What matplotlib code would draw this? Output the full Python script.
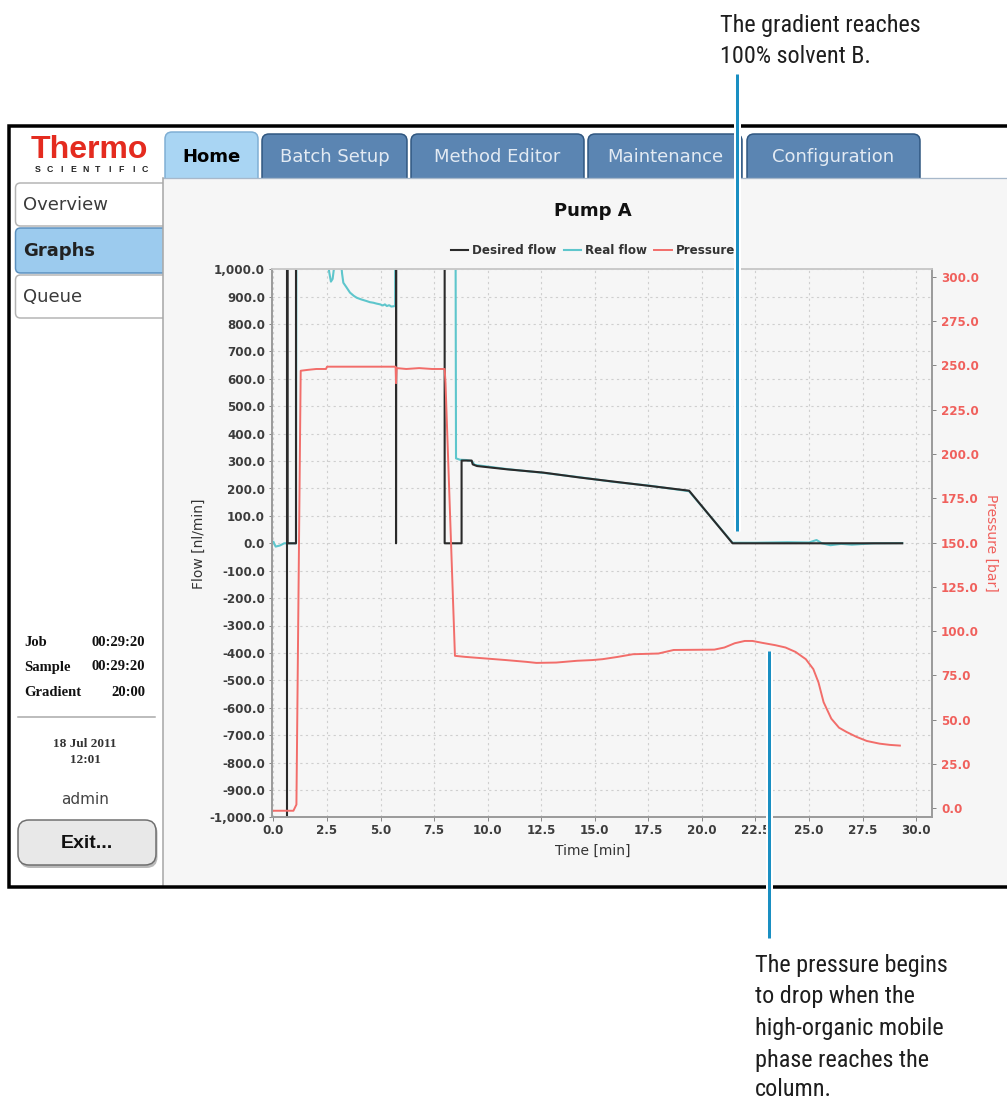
import numpy as np
import matplotlib
matplotlib.use("Agg")
import matplotlib.pyplot as plt
from matplotlib import font_manager
from matplotlib.patches import Rectangle, FancyBboxPatch
from matplotlib.ticker import FuncFormatter, FixedLocator

# ---------------- data ----------------
desired_t = [0.0, 0.63, 0.63, 0.66, 0.66, 1.05, 1.05, 5.72, 5.72, 5.74, 7.99, 7.99,
             8.78, 8.78, 9.25, 9.3, 9.5, 10.9, 12.6, 14.3, 15.9, 17.6, 19.4, 21.43, 29.35]
desired_v = [-3000, -3000, 3000, 3000, 0, 0, 3000, 3000, 0, 3000, 3000, 0,
             0, 302, 302, 288, 282, 270, 258, 240, 225, 209, 192, 0, 0]

real_t = [0.0, 0.1, 0.3, 0.5, 0.63, 1.05, 1.1, 2.45, 2.6, 2.68, 2.76, 2.85, 3.15, 3.2,
          3.26, 3.4, 3.57, 3.75, 3.89, 4.1, 4.35, 4.5, 4.66, 4.8, 4.98, 5.1, 5.2, 5.29,
          5.4, 5.5, 5.68, 5.72, 8.45, 8.52, 8.7, 9.0, 9.25, 9.4, 10.9, 12.6, 14.3, 15.9,
          17.6, 19.4, 21.43, 22.5, 24.0, 25.0, 25.35, 25.6, 26.0, 26.5, 27.0, 28.0, 29.35]
real_v = [5, -12, -8, 0, 0, 0, 3000, 1100, 990, 955, 965, 1020, 1030, 985,
          951, 935, 915, 903, 896, 890, 884, 880, 878, 875, 872, 868, 872, 866,
          869, 864, 866, 3000, 3000, 310, 305, 304, 300, 286, 271, 257, 241, 224,
          210, 190, 2, 2, 4, 3, 12, 0, -7, -2, -5, 0, 1]

pressure_t = [0.0, 0.93, 1.07, 1.27, 1.6, 2.0, 2.45, 2.5, 5.7, 5.72, 5.75, 6.2, 6.8,
              7.4, 7.99, 8.03, 8.47, 8.95, 9.9, 10.85, 11.8, 12.27, 13.2, 14.17, 14.88,
              15.36, 16.07, 16.78, 17.97, 18.68, 20.58, 21.05, 21.53, 22.0, 22.36, 22.83,
              23.43, 23.9, 24.37, 24.85, 25.2, 25.44, 25.68, 26.04, 26.4, 26.75, 27.22,
              27.7, 28.29, 28.77, 29.24]
pressure_v = [-1.5, -1.5, 2, 247, 247.5, 248, 248, 249.3, 249.3, 240, 248.5, 248, 248.5,
              248, 248, 240, 86, 85.4, 84.5, 83.6, 82.6, 82, 82.2, 83.2, 83.6,
              84.1, 85.4, 86.9, 87.3, 89.3, 89.5, 90.7, 93.1, 94.4, 94.4, 93.3,
              92, 90.7, 88.2, 84.1, 78.5, 71, 59.8, 50.5, 45.4, 43, 40.2,
              37.9, 36.4, 35.7, 35.3]

time_ticks = [0.0, 2.5, 5.0, 7.5, 10.0, 12.5, 15.0, 17.5, 20.0, 22.5, 25.0, 27.5, 30.0]
flow_ticks = [-1000, -900, -800, -700, -600, -500, -400, -300, -200, -100, 0,
              100, 200, 300, 400, 500, 600, 700, 800, 900, 1000]
pressure_ticks = [0, 25, 50, 75, 100, 125, 150, 175, 200, 225, 250, 275, 300]

series_names = ["Desired flow", "Real flow", "Pressure"]
tab_names = ["Home", "Batch Setup", "Method Editor", "Maintenance", "Configuration"]
nav_names = ["Overview", "Graphs", "Queue"]
callout_top = ["The gradient reaches", "100% solvent B."]
callout_bottom = ["The pressure begins", "to drop when the", "high-organic mobile",
                  "phase reaches the", "column."]

# ---------------- figure ----------------
W, H = 1007, 1099
fig = plt.figure(figsize=(W / 100, H / 100), dpi=100)
fig.patch.set_facecolor("white")
renderer = fig.canvas.get_renderer()

PX = 72 / 100  # points per pixel
UI = "DejaVu Sans"
installed = {f.name for f in font_manager.fontManager.ttflist}
ANN = next((n for n in ["Roboto Condensed", "Liberation Sans Narrow", "Arial Narrow",
                        "Roboto"] if n in installed), "DejaVu Sans")

bg = fig.add_axes([0, 0, 1, 1], zorder=-5)
bg.set_xlim(0, W)
bg.set_ylim(H, 0)
bg.axis("off")

# tabs
tab_x = [(165, 258, 132), (262, 407, 134), (411, 584, 134), (588, 742, 134), (747, 920, 134)]
for i, (name, (x0, x1, top)) in enumerate(zip(tab_names, tab_x)):
    if i == 0:
        fc, ec, tc, fw = "#a9d5f3", "#7eaed4", "black", "bold"
    else:
        fc, ec, tc, fw = "#5b85b2", "#2f5680", "#e2eaf3", "normal"
    bg.add_patch(FancyBboxPatch((x0, top), x1 - x0, 60,
                                boxstyle="round,pad=0,rounding_size=7",
                                fc=fc, ec=ec, lw=1.5 * PX, zorder=1))
    bg.text((x0 + x1) / 2, 157, name, ha="center", va="center", fontsize=13,
            color=tc, fontweight=fw, family=UI, zorder=3)

# nav buttons
nav_y = [(183, 226), (228, 273), (275, 318)]
for i, (name, (y0, y1)) in enumerate(zip(nav_names, nav_y)):
    if i == 1:
        fc, ec, fw = "#9ccbee", "#5b90bf", "bold"
    else:
        fc, ec, fw = "white", "#b4b4b4", "normal"
    bg.add_patch(FancyBboxPatch((15.5, y0), 160, y1 - y0,
                                boxstyle="round,pad=0,rounding_size=5",
                                fc=fc, ec=ec, lw=1.5 * PX, zorder=1))
    bg.text(23, (y0 + y1) / 2 + 1, name, ha="left", va="center", fontsize=13,
            fontweight=fw, color="#222" if i == 1 else "#3a3a3a", family=UI, zorder=3)

# main panel
bg.add_patch(Rectangle((163, 178), 860, 707, fc="#f6f6f6", ec="none", zorder=2))
bg.plot([163, 1010], [178, 178], color="#a7b8ca", lw=1.3 * PX, zorder=2.5)
bg.plot([162.5, 162.5], [178, 885], color="#a9a9a9", lw=1.6 * PX, zorder=2.5)

# logo
bg.text(89, 157.5, "Thermo", ha="center", va="baseline", fontsize=23,
        fontweight="bold", color="#e42b1f", family="Liberation Sans", zorder=3)
for k, ch in enumerate("SCIENTIFIC"):
    bg.text(38 + k * 11.9, 171.5, ch, ha="center", va="baseline", fontsize=6.3,
            fontweight="bold", color="#222", family="Liberation Sans", zorder=3)

# left info block
SER = "Liberation Serif"
for lab, val, yy in [("Job", "00:29:20", 642), ("Sample", "00:29:20", 667),
                     ("Gradient", "20:00", 692)]:
    bg.text(24, yy, lab, ha="left", va="center", fontsize=10.5, fontweight="bold",
            family=SER, color="#111", zorder=3)
    bg.text(145, yy, val, ha="right", va="center", fontsize=10.5, fontweight="bold",
            family=SER, color="#111", zorder=3)
bg.plot([18, 155], [716.5, 716.5], color="#a8a8a8", lw=1.5 * PX, zorder=3)
bg.text(85, 744, "18 Jul 2011", ha="center", va="center", fontsize=9.5,
        family=SER, fontweight="bold", color="#333", zorder=3)
bg.text(85, 760, "12:01", ha="center", va="center", fontsize=9.5,
        family=SER, fontweight="bold", color="#333", zorder=3)
bg.text(85, 800, "admin", ha="center", va="center", fontsize=11, family=UI,
        color="#444", zorder=3)
bg.add_patch(FancyBboxPatch((19.5, 822), 138, 46, boxstyle="round,pad=0,rounding_size=11",
                            fc="#b9b9b9", ec="none", zorder=2.6))
bg.add_patch(FancyBboxPatch((18, 820), 138, 45, boxstyle="round,pad=0,rounding_size=11",
                            fc="#e8e8e8", ec="#6e6e6e", lw=1.5 * PX, zorder=2.7))
bg.text(87, 843, "Exit...", ha="center", va="center", fontsize=14, fontweight="bold",
        family="Liberation Sans", color="#111", zorder=3)

# screenshot frame (open at the right, cut by the image edge)
bg.plot([1010, 9, 9, 1010], [125.5, 125.5, 886.5, 886.5], color="black",
        lw=3.5 * PX, solid_joinstyle="miter", zorder=4)

# ---------------- chart ----------------
L, R, T, B = 272, 932, 269.3, 817.3
ax = fig.add_axes([L / W, 1 - B / H, (R - L) / W, (B - T) / H], zorder=1)
ax.patch.set_visible(False)
ax2 = ax.twinx()
ax2.patch.set_visible(False)

c_des, c_real, c_pres = "#2a2a2a", "#5ec6cc", "#f26d6a"
l2, = ax.plot(real_t, real_v, color=c_real, lw=1.5, label=series_names[1])
l1, = ax.plot(desired_t, desired_v, color=c_des, lw=1.5, label=series_names[0])
l3, = ax2.plot(pressure_t, pressure_v, color=c_pres, lw=1.4, label=series_names[2])

ax.set_xlim(-0.07, 30.74)
ax.set_ylim(-1000, 1000)
ax2.set_ylim(-5.2, 304.3)

ax.xaxis.set_major_locator(FixedLocator(time_ticks))
ax.yaxis.set_major_locator(FixedLocator(flow_ticks))
ax2.yaxis.set_major_locator(FixedLocator(pressure_ticks))
fmt = FuncFormatter(lambda v, p: f"{v:,.1f}")
ax.xaxis.set_major_formatter(fmt)
ax.yaxis.set_major_formatter(fmt)
ax2.yaxis.set_major_formatter(fmt)

ax.grid(True, color="#cfcfcf", lw=0.8, linestyle=(0, (2, 3)))
for a in (ax, ax2):
    for s in a.spines.values():
        s.set_color("#9a9a9a")
        s.set_linewidth(1.2)
    a.spines["top"].set_color("#c9c9c9")
ax.tick_params(axis="both", direction="out", length=3.5 * PX, width=1.0 * PX,
               color="#888888", labelsize=8.6, labelcolor="#3c3c3c", pad=2.5)
ax2.tick_params(axis="y", direction="out", length=3.5 * PX, width=1.0 * PX,
                color="#888888", labelsize=8.6, labelcolor="#f0605c", pad=4)
for lab in ax.get_xticklabels() + ax.get_yticklabels() + ax2.get_yticklabels():
    lab.set_fontweight("bold")
    lab.set_family(UI)

ax.set_xlabel("Time [min]", fontsize=10, color="#333", family=UI)
ax.xaxis.set_label_coords((593 - L) / (R - L), -(844 - B) / (B - T))
ax.set_ylabel("Flow [nl/min]", fontsize=10, color="#333", family=UI)
ax.yaxis.set_label_coords((205.5 - L) / (R - L), 0.5)
ax2.set_ylabel("Pressure [bar]", fontsize=10, color="#f0605c", family=UI,
               rotation=-90, va="bottom")
ax2.yaxis.set_label_coords((984 - L) / (R - L), 0.5)

fig.text(593 / W, 1 - 211 / H, "Pump A", ha="center", va="center", fontsize=13,
         fontweight="bold", family=UI, color="#111")
leg = fig.legend(handles=[l1, l2, l3], labels=series_names, loc="center",
                 bbox_to_anchor=(593 / W, 1 - 251 / H), ncol=3, frameon=False,
                 prop={"family": UI, "size": 8.6, "weight": "bold"},
                 handlelength=1.45, handletextpad=0.35, columnspacing=0.6,
                 borderaxespad=0, borderpad=0)
for t in leg.get_texts():
    t.set_color("#333")

# ---------------- call-outs ----------------
ov = fig.add_axes([0, 0, 1, 1], zorder=10)
ov.set_xlim(0, W)
ov.set_ylim(H, 0)
ov.axis("off")
ov.patch.set_visible(False)
blue = "#1a8fc2"
for xx, y0, y1 in [(736.5, 74, 531), (768.5, 651, 938)]:
    ov.plot([xx, xx], [y0, y1], color="white", lw=7 * PX, solid_capstyle="butt")
    ov.plot([xx, xx], [y0, y1], color=blue, lw=3 * PX, solid_capstyle="butt")

# size the call-out font so its first line spans ~201 px like the reference
probe = ov.text(0, 0, callout_top[0], fontsize=19, family=ANN)
wpx = probe.get_window_extent(renderer=renderer).width
probe.remove()
ann_size = max(14.0, min(19.5, 19 * 201.0 / wpx))

for txt, yy in zip(callout_top, [31.7, 63.3]):
    ov.text(720, yy, txt, ha="left", va="baseline", fontsize=ann_size, family=ANN,
            color="#1e1e1e")
for txt, yy in zip(callout_bottom, [971.7, 1003.3, 1035, 1066.7, 1095.5]):
    ov.text(755, yy, txt, ha="left", va="baseline", fontsize=ann_size, family=ANN,
            color="#1e1e1e")

fig.savefig("out.png", dpi=100, facecolor="white")
